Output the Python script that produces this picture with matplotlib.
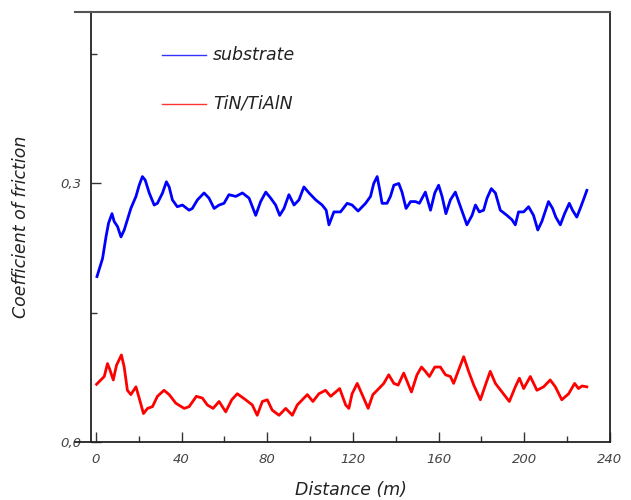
import matplotlib
matplotlib.use("Agg")
import matplotlib.pyplot as plt
from matplotlib.ticker import MultipleLocator, FuncFormatter
from matplotlib.lines import Line2D

# Datos
dist_sub = [0.5, 3.1, 4.7, 5.9, 7.5, 8.5, 10.1, 11.7, 13.2, 14.7, 16.3, 18.7, 20.2, 21.7,
            23.0, 24.9, 27.2, 28.7, 31.1, 32.9, 34.2, 35.7, 38.0, 40.4, 43.5, 45.0, 47.4,
            50.5, 52.8, 55.2, 57.5, 59.8, 62.1, 65.3, 68.4, 71.5, 74.6, 76.9, 79.3, 81.6,
            83.9, 85.8, 87.8, 90.1, 92.5, 94.8, 97.1, 99.5, 102.6, 105.6, 107.5, 108.8,
            111.1, 114.2, 117.3, 119.6, 122.4, 125.9, 128.2, 129.7, 131.3, 132.4, 133.6,
            135.9, 137.5, 139.1, 141.4, 142.9, 144.8, 146.9, 149.2, 151.0, 153.8, 156.2,
            158.2, 160.0, 161.6, 163.4, 165.5, 167.8, 170.2, 173.2, 175.6, 177.2, 179.0,
            181.0, 182.6, 184.6, 186.5, 188.8, 191.9, 194.2, 195.8, 197.3, 199.7, 202.0,
            204.3, 206.3, 208.2, 211.3, 213.2, 214.7, 216.8, 218.8, 221.0, 222.5, 224.5,
            226.1, 227.6, 229.2]
cof_sub = [0.192, 0.213, 0.238, 0.254, 0.265, 0.256, 0.250, 0.238, 0.246, 0.258, 0.271,
           0.285, 0.298, 0.308, 0.304, 0.289, 0.275, 0.277, 0.289, 0.302, 0.296, 0.281,
           0.273, 0.275, 0.269, 0.271, 0.281, 0.289, 0.283, 0.271, 0.275, 0.277, 0.287,
           0.285, 0.289, 0.283, 0.263, 0.279, 0.290, 0.283, 0.275, 0.263, 0.271, 0.287,
           0.275, 0.281, 0.296, 0.289, 0.281, 0.275, 0.269, 0.252, 0.267, 0.267, 0.277,
           0.275, 0.268, 0.277, 0.285, 0.300, 0.308, 0.294, 0.277, 0.277, 0.285, 0.298,
           0.300, 0.290, 0.271, 0.279, 0.279, 0.277, 0.290, 0.269, 0.289, 0.298, 0.285,
           0.265, 0.281, 0.290, 0.273, 0.252, 0.263, 0.275, 0.267, 0.269, 0.283, 0.294,
           0.289, 0.269, 0.263, 0.258, 0.252, 0.267, 0.267, 0.273, 0.263, 0.246, 0.256,
           0.279, 0.271, 0.261, 0.252, 0.265, 0.277, 0.269, 0.261, 0.271, 0.281, 0.292]

dist_tin = [0.3, 3.9, 5.4, 6.5, 8.1, 9.6, 11.9, 13.2, 14.7, 16.3, 18.7, 20.2, 22.2, 24.1,
            26.4, 28.7, 31.8, 34.2, 37.3, 41.2, 43.5, 46.9, 49.7, 52.0, 54.7, 57.5, 60.6,
            63.4, 66.0, 69.9, 73.0, 75.3, 77.7, 80.0, 82.3, 85.5, 88.6, 91.7, 94.0, 98.7,
            101.3, 104.1, 107.2, 109.6, 113.8, 116.6, 118.1, 119.6, 122.0, 124.3, 127.1,
            129.3, 132.1, 134.4, 136.7, 139.1, 141.1, 143.7, 147.3, 149.9, 152.0, 153.8,
            155.7, 158.2, 160.8, 163.2, 165.5, 167.0, 169.4, 171.7, 174.0, 176.4, 179.5,
            182.1, 184.1, 186.5, 189.6, 193.0, 195.8, 197.7, 199.7, 202.8, 205.9, 209.0,
            212.1, 214.5, 217.5, 220.7, 223.5, 225.3, 226.9, 229.2]
cof_tin = [0.067, 0.076, 0.091, 0.084, 0.072, 0.089, 0.101, 0.087, 0.060, 0.055, 0.064,
           0.051, 0.033, 0.039, 0.041, 0.053, 0.060, 0.055, 0.045, 0.039, 0.041, 0.053,
           0.051, 0.043, 0.039, 0.047, 0.035, 0.049, 0.056, 0.049, 0.043, 0.031, 0.047,
           0.049, 0.037, 0.031, 0.039, 0.031, 0.043, 0.055, 0.047, 0.056, 0.060, 0.053,
           0.062, 0.043, 0.039, 0.056, 0.068, 0.055, 0.039, 0.055, 0.062, 0.068, 0.078,
           0.068, 0.066, 0.080, 0.058, 0.078, 0.087, 0.082, 0.076, 0.087, 0.087, 0.078,
           0.076, 0.068, 0.084, 0.099, 0.082, 0.066, 0.049, 0.068, 0.082, 0.068, 0.058,
           0.047, 0.064, 0.074, 0.062, 0.076, 0.060, 0.064, 0.072, 0.064, 0.049, 0.056,
           0.068, 0.062, 0.065, 0.064]

labels = ["substrate", "TiN/TiAlN"]
colores = ["#0000ff", "#ff0000"]

plt.rcParams["font.family"] = ["DejaVu Sans"]
plt.rcParams["font.style"] = "italic"

fig = plt.figure(figsize=(6.31, 5.0), dpi=100)
ax = fig.add_axes([0.1442, 0.116, 0.8225, 0.86])

ax.plot(dist_sub, cof_sub, color=colores[0], lw=2.0)
ax.plot(dist_tin, cof_tin, color=colores[1], lw=2.0)

ax.set_xlim(-2.3, 240)
ax.set_ylim(0, 0.499)

ax.xaxis.set_major_locator(MultipleLocator(40))
ax.xaxis.set_minor_locator(MultipleLocator(20))
ax.yaxis.set_major_locator(MultipleLocator(0.3))
ax.yaxis.set_minor_locator(MultipleLocator(0.15))
ax.yaxis.set_major_formatter(FuncFormatter(lambda v, p: ("%.1f" % v).replace(".", ",")))

ax.tick_params(which="both", direction="in", colors="#333333", labelcolor="#444444",
               labelsize=9.5, width=1.0)
ax.tick_params(which="major", length=7)
ax.tick_params(which="minor", length=4)
ax.tick_params(axis="x", pad=8)
ax.tick_params(axis="y", pad=7)

for s in ["left", "right", "bottom"]:
    ax.spines[s].set_color("#222222")
    ax.spines[s].set_linewidth(1.3)
ax.spines["top"].set_color("#555555")
ax.spines["top"].set_linewidth(1.5)

# extension de los bordes hacia la izquierda
ax.add_line(Line2D([-0.03, 0], [1, 1], transform=ax.transAxes, color="#555555",
                   lw=1.5, clip_on=False))
ax.add_line(Line2D([-0.03, 0], [0, 0], transform=ax.transAxes, color="#222222",
                   lw=1.3, clip_on=False))

ax.set_xlabel("Distance (m)", fontsize=12.5, color="#222222", labelpad=11)
ax.set_ylabel("Coefficient of friction", fontsize=12.5, color="#222222", labelpad=22)

# leyenda
for i, (lab, col) in enumerate(zip(labels, colores)):
    yl = 0.9 - i * 0.113
    ax.plot([0.137, 0.222], [yl, yl], transform=ax.transAxes, color=col, lw=1.0, alpha=0.8)
    ax.text(0.235, yl, lab, transform=ax.transAxes, fontsize=12.5, color="#222222",
            va="center", ha="left")

plt.savefig("out.png", dpi=100)
